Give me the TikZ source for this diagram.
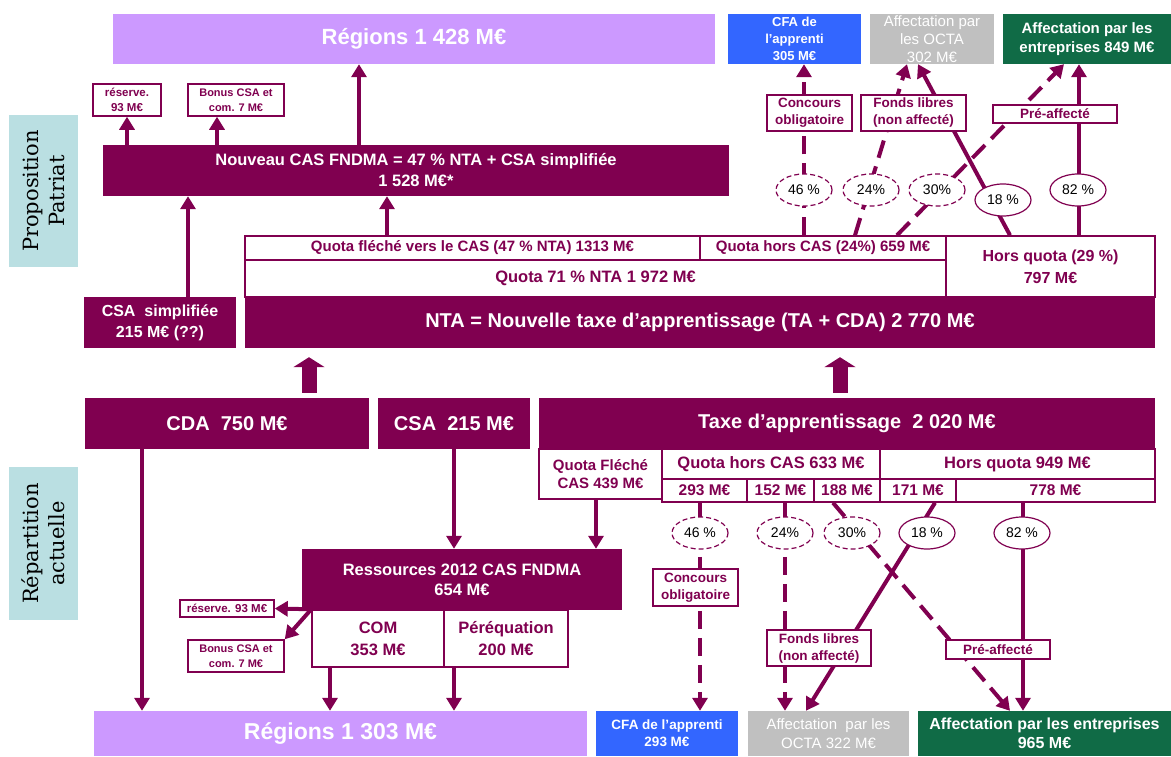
\documentclass[tikz,border=0pt]{standalone}
\usepackage{fontspec}
\setmainfont{Liberation Sans}
\newfontfamily\sidefont{DejaVu Serif}
\usetikzlibrary{arrows.meta,shapes.geometric}

\definecolor{plum}{RGB}{128,0,80}
\definecolor{lilac}{RGB}{204,153,255}
\definecolor{cfablue}{RGB}{51,102,255}
\definecolor{octagray}{RGB}{192,192,192}
\definecolor{firmgreen}{RGB}{16,107,70}
\definecolor{sideblue}{RGB}{186,223,226}

\newcommand{\fsz}[2]{\fontsize{#1}{#2}\selectfont}

\tikzset{
  sz/.style 2 args={font=\bfseries\fsz{#1}{#2}},
  fillbox/.style={inner sep=0pt, align=center, text=white, font=\bfseries},
  darkbox/.style={fillbox, fill=plum},
  linebox/.style={draw=plum, line width=1.5pt, fill=white, inner sep=0pt, align=center, text=plum, font=\bfseries},
  tag/.style={linebox, line width=1.2pt},
  pct/.style={ellipse, draw=plum, line width=1.2pt, fill=white, inner sep=0pt, minimum width=56pt, minimum height=32pt, font=\fsz{14}{16}},
  pctdash/.style={pct, dash pattern=on 5pt off 3pt},
  flow/.style={draw=plum, line width=4pt, -{Triangle[width=15pt,length=13pt]}},
  flowdash/.style={flow, dash pattern=on 18pt off 9pt},
  push/.style={draw=plum, line width=15pt, -{Triangle[width=31pt,length=10pt]}, shorten <=5pt, shorten >=9pt},
  sidelabel/.style={fill=sideblue, rotate=90, minimum height=69pt, inner sep=0pt, align=center, font=\sidefont\fsz{21}{26}},
}

\begin{document}
\begin{tikzpicture}[x=1pt,y=-1pt]
\useasboundingbox (0,0) rectangle (1171,756);

% side labels
\node[sidelabel, minimum width=152pt] (propSide) at (43.5,191) {Proposition\\Patriat};
\node[sidelabel, minimum width=153pt] (repSide) at (43.5,543.5) {Répartition\\actuelle};

% proposition: destinations
\node[fillbox, fill=lilac, minimum width=602pt, minimum height=50pt, sz={22}{26}] (regP) at (414,39) {Régions 1 428 M€};
\node[fillbox, fill=cfablue, minimum width=133pt, minimum height=50pt, sz={13}{17}] (cfaP) at (794.5,39) {CFA de\\l’apprenti\\305 M€};
\node[fillbox, fill=octagray, minimum width=124pt, minimum height=50pt, font=\fsz{15}{18}] (octaP) at (932,39) {Affectation par\\les OCTA\\302 M€};
\node[fillbox, fill=firmgreen, minimum width=168pt, minimum height=50pt, sz={15}{19}] (firmP) at (1087,39) {Affectation par les\\entreprises 849 M€};

\node[linebox, minimum width=68pt, minimum height=32pt, sz={11.5}{15}] (resP) at (127,100) {réserve.\\93 M€};
\node[linebox, minimum width=96pt, minimum height=32pt, sz={11}{15}] (bonP) at (236,100) {Bonus CSA et\\com. 7 M€};
\node[darkbox, minimum width=626pt, minimum height=51pt, sz={16.5}{21}] (casP) at (416,170.5) {Nouveau CAS FNDMA = 47 \% NTA + CSA simplifiée\\1 528 M€*};

% proposition: NTA split
\node[linebox, minimum width=455pt, minimum height=24pt, sz={15}{17}] (qfP) at (472.5,248) {Quota fléché vers le CAS (47 \% NTA) 1313 M€};
\node[linebox, minimum width=246pt, minimum height=24pt, sz={15}{17}] (qhcP) at (823,248) {Quota hors CAS (24\%) 659 M€};
\node[linebox, minimum width=701pt, minimum height=37pt, sz={16.5}{19}] (q71) at (595.5,278.5) {Quota 71 \% NTA 1 972 M€};
\node[linebox, minimum width=209pt, minimum height=61pt, sz={16}{22}] (hqP) at (1050.5,266.5) {Hors quota (29 \%)\\797 M€};
\node[darkbox, minimum width=152pt, minimum height=51pt, sz={16}{21}] (csaS) at (160,322.5) {CSA\ \ simplifiée\\215 M€ (??)};
\node[darkbox, minimum width=910pt, minimum height=51pt, sz={20}{24}] (nta) at (700,322.5) {NTA = Nouvelle taxe d’apprentissage (TA + CDA) 2 770 M€};

% current split: sources
\node[darkbox, minimum width=284pt, minimum height=51pt, sz={20}{24}] (cda) at (227,423.5) {CDA\ \ 750 M€};
\node[darkbox, minimum width=152pt, minimum height=51pt, sz={20}{24}] (csa) at (454,423.5) {CSA\ \ 215 M€};
\node[darkbox, minimum width=616pt, minimum height=51pt, sz={20}{24}] (taxe) at (847,423.5) {Taxe d’apprentissage\ \ 2 020 M€};

\node[linebox, minimum width=123pt, minimum height=50pt, sz={15}{18}] (qfA) at (600.5,474) {Quota Fléché\\CAS 439 M€};
\node[linebox, minimum width=218pt, minimum height=30pt, sz={16.5}{20}] (qhcA) at (771,464) {Quota hors CAS 633 M€};
\node[linebox, minimum width=275pt, minimum height=30pt, sz={16.5}{20}] (hqA) at (1017.5,464) {Hors quota 949 M€};
\node[linebox, minimum width=85pt, minimum height=23pt, sz={15.5}{18}] (c293) at (704.5,490.5) {293 M€};
\node[linebox, minimum width=67pt, minimum height=23pt, sz={15.5}{18}] (c152) at (780.5,490.5) {152 M€};
\node[linebox, minimum width=66pt, minimum height=23pt, sz={15.5}{18}] (c188) at (847,490.5) {188 M€};
\node[linebox, minimum width=76pt, minimum height=23pt, sz={15.5}{18}] (c171) at (918,490.5) {171 M€};
\node[linebox, minimum width=199pt, minimum height=23pt, sz={15.5}{18}] (c778) at (1055.5,490.5) {778 M€};

% current split: CAS FNDMA
\node[darkbox, minimum width=320pt, minimum height=61pt, sz={16.5}{20}] (res) at (462,579.5) {Ressources 2012 CAS FNDMA\\654 M€};
\node[linebox, minimum width=132pt, minimum height=57pt, sz={16.5}{22}] (com) at (378,638.5) {COM\\353 M€};
\node[linebox, minimum width=124pt, minimum height=57pt, sz={16.5}{22}] (pereq) at (506,638.5) {Péréquation\\200 M€};
\node[linebox, minimum width=94pt, minimum height=17pt, sz={11.5}{13}] (resA) at (227,608.5) {réserve. 93 M€};
\node[linebox, minimum width=96pt, minimum height=32pt, sz={11}{15}] (bonA) at (236,656) {Bonus CSA et\\com. 7 M€};

% current split: destinations
\node[fillbox, fill=lilac, minimum width=493pt, minimum height=45pt, sz={23}{26}] (regA) at (340.5,733.5) {Régions 1 303 M€};
\node[fillbox, fill=cfablue, minimum width=142pt, minimum height=45pt, sz={13.5}{17}] (cfaA) at (667,733.5) {CFA de l’apprenti\\293 M€};
\node[fillbox, fill=octagray, minimum width=161pt, minimum height=45pt, font=\fsz{15}{19}] (octaA) at (828.5,733.5) {Affectation\ \ par les\\OCTA 322 M€};
\node[fillbox, fill=firmgreen, minimum width=253pt, minimum height=45pt, sz={16}{19}] (firmA) at (1044.5,733.5) {Affectation par les entreprises\\965 M€};

% flows, proposition
\draw[flow] (casP.north -| resP.south) -- (resP.south);
\draw[flow] (casP.north -| 217,0) -- (bonP.south -| 217,0);
\draw[flow] (casP.north -| 359,0) -- (regP.south -| 359,0);
\draw[flow] (csaS.north -| 188,0) -- (casP.south -| 188,0);
\draw[flow] (qfP.north -| 387,0) -- (casP.south -| 387,0);
\draw[flowdash] (qhcP.north -| 804,0) -- (cfaP.south -| 804,0);
\draw[flowdash] (qhcP.north -| 855,0) -- (octaP.south -| 907,0);
\draw[flowdash] (qhcP.north -| 897,0) -- (firmP.south -| 1064,0);
\draw[flow] (hqP.north -| 1010,0) -- (octaP.south -| 918,0);
\draw[flow] (hqP.north -| 1079,0) -- (firmP.south -| 1079,0);
\draw[push] (cda.north -| 309,0) -- (nta.south -| 309,0);
\draw[push] (taxe.north -| 840,0) -- (nta.south -| 840,0);

% flows, current split
\draw[flow] (cda.south -| 142,0) -- (regA.north -| 142,0);
\draw[flow] (csa.south) -- (res.north -| csa.south);
\draw[flow] (qfA.south -| 596,0) -- (res.north -| 596,0);
\draw[flow] (com.north west) -- (resA.east);
\draw[flow] (com.north west) -- (bonA.north east);
\draw[flow] (com.south -| 330,0) -- (regA.north -| 330,0);
\draw[flow] (pereq.south -| 454,0) -- (regA.north -| 454,0);
\draw[flowdash] (c293.south -| 700,0) -- (cfaA.north -| 700,0);
\draw[flowdash] (c152.south -| 785,0) -- (octaA.north -| 785,0);
\draw[flowdash] (c188.south -| 833,0) -- (firmA.north -| 1010,0);
\draw[flow] (c171.south -| 935,0) -- (octaA.north -| 806,0);
\draw[flow] (c778.south -| 1023,0) -- (firmA.north -| 1023,0);

% shares and labels on the flows
\node[pctdash] (p46P) at (804,190) {46 \%};
\node[pctdash] (p24P) at (871,190) {24\%};
\node[pctdash] (p30P) at (937,190) {30\%};
\node[pct] (p18P) at (1003,200) {18 \%};
\node[pct] (p82P) at (1078,190) {82 \%};
\node[tag, minimum width=85pt, minimum height=36pt, sz={13.5}{17}] (concP) at (809.5,113) {Concours\\obligatoire};
\node[tag, minimum width=105pt, minimum height=36pt, sz={13.5}{17}] (fondsP) at (913.5,113) {Fonds libres\\(non affecté)};
\node[tag, minimum width=124pt, minimum height=18pt, sz={13.5}{15}] (preP) at (1055,114) {Pré-affecté};

\node[pctdash] (p46A) at (700,533) {46 \%};
\node[pctdash] (p24A) at (785,533) {24\%};
\node[pctdash] (p30A) at (852,533) {30\%};
\node[pct] (p18A) at (927,533) {18 \%};
\node[pct] (p82A) at (1022,533) {82 \%};
\node[tag, minimum width=85pt, minimum height=37pt, sz={13.5}{17}] (concA) at (695.5,587.5) {Concours\\obligatoire};
\node[tag, minimum width=104pt, minimum height=36pt, sz={13.5}{17}] (fondsA) at (819,648) {Fonds libres\\(non affecté)};
\node[tag, minimum width=104pt, minimum height=19pt, sz={13.5}{15}] (preA) at (998,649.5) {Pré-affecté};
\end{tikzpicture}
\end{document}
